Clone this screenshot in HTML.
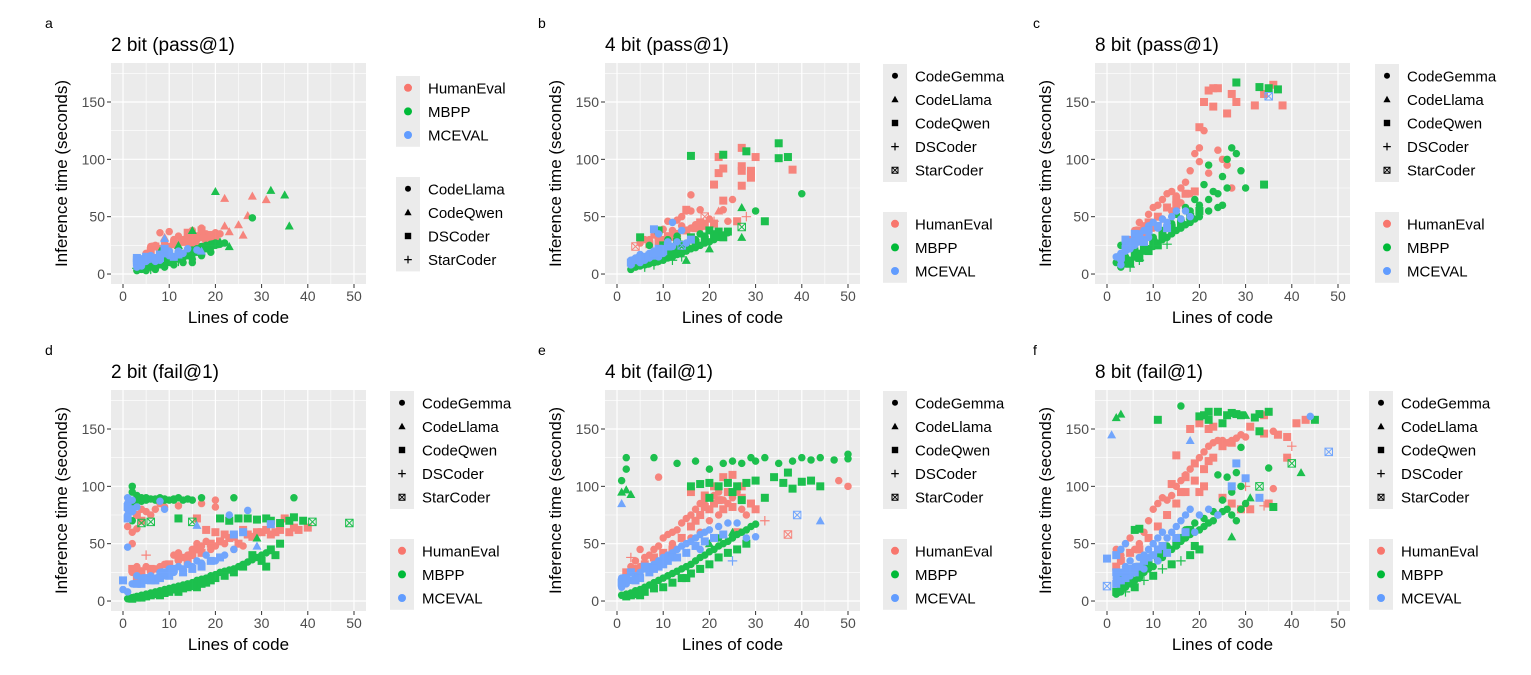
<!DOCTYPE html>
<html><head><meta charset="utf-8">
<style>
html,body{margin:0;padding:0;background:#fff;}
svg{display:block;font-family:"Liberation Sans",Arial,sans-serif;}
</style></head>
<body>
<svg id="fig" width="1531" height="675" viewBox="0 0 1531 675" xmlns="http://www.w3.org/2000/svg"></svg>
<script>
// ---- data (x = lines of code, y = inference seconds, optional shape index) ----
const xTicks = [0,10,20,30,40,50];
const yTicks = [0,50,100,150];
const datasets = ["HumanEval","MBPP","MCEVAL"];
const modelsA = ["CodeLlama","CodeQwen","DSCoder","StarCoder"];
const modelsB = ["CodeGemma","CodeLlama","CodeQwen","DSCoder","StarCoder"];

const a_HumanEval = [[5,18],[6,24],[7,25],[8,36],[10,37],[9,27],[11,30],[12,22],[14,33],[14,28],[15,38],[16,30],[17,40],[18,35],[19,30],[20,36],[22,66,1],[22,42,1],[23,37,1],[25,43,1],[26,34,1],[27,51,1],[28,68,1],[31,65,1],[12,33],[13,30],[16,25],[19,27],[21,35],[10,24],[15,32],[18,28],[17,34],[7,24,2],[14,30,2],[15,27,2],[17,32,2],[6,20,2],[8,22,2],[11,26,2],[13,28,2],[16,33,2],[18,31,2],[19,34,2],[20,30,2],[9,32,1],[12,29,3],[14,36,2],[17,38,2]];
const a_MBPP = [[3,3],[4,4],[5,5],[6,6],[7,6],[8,8],[9,9],[10,10],[11,12],[12,13],[13,14],[14,16],[15,17],[16,19],[17,20],[18,22],[19,23],[20,25],[21,26],[22,27],[23,24,1],[20,72,1],[32,73,1],[35,69,1],[36,42,1],[28,49,0],[15,10,0],[12,25,1],[15,38,1],[8,20,1],[4,7],[5,8],[6,9],[7,10],[8,11],[9,12],[10,14],[11,15],[12,17],[13,18],[14,19],[15,21],[16,22],[17,24],[18,25],[19,26],[20,27],[5,3],[7,4],[9,6],[11,8],[13,10],[15,13],[17,16],[19,19],[4,5,2],[6,7,2],[8,9,2],[10,11,2],[12,14,2],[14,17,2],[16,20,2],[18,23,2],[20,26,2],[21,28,1],[3,5,3],[6,4,3],[9,8,3],[12,11,3]];
const a_MCEVAL = [[3,10,2],[3,14,2],[4,13,2],[5,15,2],[3,6],[4,9],[6,13],[7,11],[8,12],[9,31,1],[9,18,2],[10,16],[11,15,2],[12,20],[13,18],[14,22],[16,21],[17,20,1],[5,11],[4,7],[6,16],[8,16],[10,20],[9,22,2],[8,14,2],[3,12,2],[4,11,2],[5,13,2],[6,14,2],[7,14,2],[8,17,2],[10,18,2],[12,17,2]];

const b_HumanEval = [[4,24,4],[5,27],[6,30],[7,30],[8,34],[9,33],[10,39],[11,46],[13,47],[14,50],[15,55],[16,69,0],[16,55],[18,56],[21,78,2],[22,88,2],[22,102,2],[23,92,2],[23,64,2],[25,65,0],[27,110,2],[27,90,2],[27,94,2],[27,77,2],[29,90,2],[29,84,2],[30,102,2],[38,91,2],[19,50,4],[21,46,3],[23,56],[24,46],[26,46,2],[28,50,3],[22,55,1],[17,43],[18,40],[19,44],[20,48],[12,38],[14,42],[16,40],[10,30],[12,32],[15,56,2],[18,45,2],[13,35,2],[15,38,2],[17,40,2],[19,42,2],[21,44,2],[11,33,2],[9,28,2],[7,26,2]];
const b_MBPP = [[3,4],[4,6],[5,7],[6,8],[7,9],[8,10],[9,11],[10,12],[11,14],[12,15],[13,17],[14,18],[15,20],[16,22],[17,23],[18,25],[19,27],[20,28],[21,30],[22,32],[23,34],[24,36],[5,32,2],[7,25],[9,38,2],[11,30],[13,33],[16,103,2],[23,104,2],[28,107,2],[35,114,2],[35,101,2],[37,102,2],[40,70,0],[30,55,0],[32,46,2],[27,58,1],[27,32,1],[27,41,4],[20,38,2],[22,37,2],[23,32,2],[24,37,2],[18,35],[20,22,1],[15,12,1],[12,20],[14,26],[17,30],[19,33],[21,35],[8,14],[10,18],[6,12],[4,10,2],[10,25,2],[13,28,2],[16,32,2],[5,9,2],[7,12,2],[9,16,2],[11,20,2],[13,22,2],[15,25,2],[17,27,2],[19,30,2],[21,33,2],[6,6,3],[8,8,3],[12,12,3],[14,15,3]];
const b_MCEVAL = [[3,8],[3,12],[4,14],[5,17],[6,12],[7,18],[8,39,2],[8,20],[9,35],[9,15],[10,22],[11,28],[12,45,0],[13,28],[14,38,0],[14,25,4],[15,27],[16,30,2],[5,10],[7,14],[10,18],[12,24],[6,15,2],[8,16,2],[9,22,2],[3,10,2],[4,12,2],[5,14,2],[7,16,2],[8,18,2],[9,19,2],[10,20,2],[11,24,2]];

const c_HumanEval = [[5,30],[6,38],[7,45],[8,42],[9,52],[10,58],[11,60],[12,65],[13,70],[14,72],[15,68],[16,75],[17,80],[18,90],[19,105],[20,110],[21,125],[21,150,2],[22,160,2],[23,146,2],[24,162,2],[26,140,2],[27,157,2],[28,150,2],[32,147,2],[34,157,2],[38,147,2],[24,108],[25,100],[26,95],[27,75],[20,98],[22,88],[18,70],[16,62],[14,55],[12,48],[10,40],[8,35],[36,165,2],[23,162,2],[20,128,2],[15,60,2],[17,70,2],[9,45,2],[11,50,2],[13,58,2],[15,65,2],[19,72,2],[7,38,2]];
const c_MBPP = [[3,6],[4,9],[5,12],[6,15],[7,18],[8,20],[9,22],[10,24],[11,27],[12,30],[13,32],[14,35],[15,38],[16,40],[17,43],[18,45],[19,48],[20,50],[22,55],[24,58],[25,60],[4,15],[6,22],[8,28],[10,32],[12,38],[14,44],[16,48],[18,55],[20,60],[22,65],[24,70],[26,75],[27,110],[26,100],[28,105],[29,90],[21,78],[25,85],[22,95],[28,167,2],[33,163,2],[35,162,2],[37,161,2],[34,78,2],[30,75],[23,72],[19,65],[17,58],[15,52],[3,25],[2,10],[5,10,2],[7,14,2],[9,20,2],[11,25,2],[4,12,2],[6,18,2],[8,24,2],[10,28,2],[12,34,2],[14,40,2],[16,44,2],[18,50,2],[20,55,2],[3,8,3],[5,6,3],[7,12,3],[13,26,3]];
const c_MCEVAL = [[3,12],[3,18],[4,20],[4,25],[5,28],[5,22],[6,30],[6,25],[7,35],[7,28],[8,38],[8,30],[9,42],[9,32],[10,45],[11,40],[12,48],[13,45],[14,50],[15,55],[16,48],[17,55],[18,50],[2,15],[3,8],[4,30,2],[6,35,2],[8,28,2],[35,155,4],[3,15,2],[4,22,2],[5,25,2],[6,28,2],[7,32,2],[9,38,2],[11,42,2],[13,40,2]];

const d_HumanEval = [[1,65],[2,60],[2,50],[3,63],[4,80],[5,78],[6,75],[7,80],[8,85],[9,82],[12,83],[17,85],[20,88],[20,82],[16,72,2],[18,62,2],[20,60,2],[22,58,2],[24,56,2],[26,62,2],[28,56,2],[30,60,2],[32,58,2],[34,62,2],[36,60,2],[38,62,2],[40,64,2],[35,72,2],[2,25],[3,28],[4,22],[5,30],[6,25],[7,28],[8,30],[9,32],[10,30],[11,40],[12,42],[13,38],[14,40],[15,45],[16,50],[17,48],[18,52],[19,45],[20,48],[22,50],[24,45],[26,48],[5,40,3],[3,30],[8,25],[12,35],[2,28,2],[3,20,2],[14,35,2],[16,45,2],[4,26,2],[6,28,2],[10,32,2],[12,38,2],[15,40,2],[17,42,2],[19,50,2],[21,52,2],[23,55,2],[25,50,2],[27,58,2],[29,60,2],[31,62,2],[33,60,2],[37,64,2],[3,75,2],[4,70,2]];
const d_MBPP = [[1,2],[2,3],[3,4],[4,5],[5,6],[6,7],[7,8],[8,9],[9,10],[10,11],[11,12],[12,13],[13,14],[14,15],[15,16],[16,18],[17,19],[18,20],[19,22],[20,23],[21,25],[22,26],[23,27],[24,28],[25,30],[26,32],[27,34],[28,36],[29,38],[30,40],[31,42],[32,44],[2,100,0],[2,95,0],[3,92,0],[4,90,0],[5,88,0],[6,89,0],[7,88,0],[8,90,0],[9,89,0],[10,88,0],[11,89,0],[12,90,0],[13,88,0],[14,89,0],[17,90,0],[24,90,0],[37,90,0],[2,86,0],[3,88,0],[4,87,0],[12,72,2],[21,72,2],[23,70,2],[25,72,2],[27,72,2],[29,71,2],[31,72,2],[32,70,2],[34,68,2],[36,70,2],[37,73,2],[39,70,2],[41,69,4],[49,68,4],[15,69,4],[6,69,4],[4,68,4],[2,70,0],[24,25,2],[26,30,2],[28,40,2],[30,35,2],[31,30,2],[33,40,2],[34,50,2],[29,55,1],[32,45,2],[4,3,2],[8,5,2],[12,8,2],[16,12,2],[2,2,2],[3,3,2],[5,4,2],[6,5,2],[7,6,2],[9,7,2],[10,8,2],[11,10,2],[13,11,2],[14,12,2],[15,13,2],[17,15,2],[18,16,2],[19,18,2],[20,20,2],[22,22,2],[3,90,0],[5,90,0],[7,89,0],[9,88,0],[11,88,0],[15,88,0]];
const d_MCEVAL = [[1,90],[1,85],[1,80],[1,75],[2,88],[2,78],[3,82],[8,87,0],[9,80,0],[23,75,0],[27,79,0],[0,10],[0,18,2],[1,8],[1,47,0],[2,15],[3,22],[4,20],[5,18],[6,22],[7,20],[8,25],[9,22],[10,28],[11,25],[12,30],[13,28],[14,32],[15,30],[16,35],[17,33],[18,40],[20,35],[22,40],[24,45],[26,60,2],[29,48,1],[32,67,2],[16,66,1],[24,58,2],[4,15,2],[7,18,2],[10,22,2],[1,82,2],[1,72,2],[2,80,2],[3,15,2],[5,20,2],[6,18,2],[8,20,2],[9,25,2],[11,28,2],[13,25,2],[15,28,2],[17,30,2],[19,35,2],[21,38,2]];

const e_HumanEval = [[3,30],[4,35],[5,30],[6,38],[7,40],[8,45],[9,48],[10,55],[11,58],[12,60],[13,62],[14,68],[15,72],[16,75],[17,80],[18,85],[19,88],[20,90],[21,92],[22,95],[23,88],[24,85],[25,90],[26,95],[27,80],[28,75],[20,70],[22,75],[18,60],[16,55],[9,108],[21,100,2],[23,108,2],[25,110,2],[27,100,2],[16,95,2],[19,92,2],[24,95,2],[48,105,0],[50,100,0],[30,80,2],[32,70,3],[26,60,2],[37,58,4],[3,38,3],[5,45],[12,50],[17,70,2],[20,80,2],[22,88,2],[2,25,2],[4,28,2],[6,32,2],[8,38,2],[10,42,2],[12,45,2],[14,55,2],[16,65,2],[18,75,2],[19,82,2],[21,85,2],[23,80,2],[25,82,2],[27,90,2],[29,85,2]];
const e_MBPP = [[1,5],[2,6],[3,7],[4,9],[5,10],[6,12],[7,14],[8,16],[9,18],[10,20],[11,22],[12,24],[13,26],[14,28],[15,30],[16,32],[17,35],[18,38],[19,40],[20,43],[21,45],[22,48],[23,50],[24,52],[25,55],[26,58],[27,60],[28,62],[29,65],[30,67],[2,125,0],[2,115],[1,105],[1,95,1],[2,97,1],[3,93,1],[8,125],[13,120],[17,122],[20,115],[23,120],[25,122],[27,120],[29,125],[30,122],[32,125],[35,120],[38,122],[40,125],[42,123],[44,125],[47,123],[50,128],[50,124],[16,100,2],[18,102,2],[20,103,2],[22,100,2],[24,103,2],[26,100,2],[28,103,2],[20,90,2],[25,95,2],[27,88,2],[30,105,2],[32,90,2],[34,108,2],[36,103,2],[38,98,2],[40,104,2],[42,105,2],[44,100,2],[37,112,2],[5,5,2],[10,12,2],[15,20,2],[2,4,2],[3,5,2],[4,6,2],[6,8,2],[8,11,2],[12,16,2],[14,20,2],[16,24,2],[18,28,2],[20,32,2],[22,38,2],[24,42,2],[26,45,2],[28,50,2],[20,50,1],[25,60,1],[22,55,0]];
const e_MCEVAL = [[1,20],[1,12],[2,15],[3,18],[4,22],[5,25],[6,28],[7,30],[8,32],[9,35],[10,38],[11,40],[12,42],[13,45],[14,48],[15,50],[16,52],[17,55],[18,58],[19,60],[20,62],[22,65],[24,68],[26,68],[28,55],[30,56],[1,85,1],[39,75,4],[44,70,1],[25,35,3],[18,45],[3,25,2],[6,30,2],[9,30,2],[12,38,2],[1,16,2],[2,20,2],[4,18,2],[5,20,2],[7,25,2],[8,28,2],[10,32,2],[11,35,2],[13,38,2],[15,42,2],[17,48,2],[19,52,2],[21,55,2],[23,58,2]];

const f_HumanEval = [[2,45],[3,40],[4,50],[5,55],[6,45],[7,50],[8,60],[9,70],[10,80],[11,85],[12,90],[13,88],[14,92],[15,100],[16,105],[17,110],[18,115],[19,120],[20,125],[21,130],[22,135],[23,138],[24,140],[25,140],[26,138],[27,140],[28,142],[29,145],[30,143],[20,155,2],[18,150,2],[22,150,2],[23,152,2],[31,152,2],[34,146,2],[36,148,0],[37,145,2],[39,143,2],[41,155,2],[43,158,2],[34,162,2],[40,135,3],[39,125,2],[36,98,0],[35,85,2],[34,83,3],[30,100,3],[15,127,2],[19,120,2],[22,122,2],[17,108,2],[20,95,2],[25,90,2],[27,85,2],[29,80,2],[31,80,2],[14,102,2],[16,95,2],[21,100,2],[2,30,2],[3,35,2],[5,42,2],[7,45,2],[9,55,2],[11,65,2],[13,75,2],[15,85,2],[17,95,2],[19,105,2],[21,115,2],[23,125,2],[25,135,2],[27,138,2]];
const f_MBPP = [[2,6],[3,8],[4,12],[5,15],[6,18],[7,20],[8,25],[9,28],[10,30],[11,35],[12,38],[13,42],[14,45],[15,48],[16,52],[17,55],[18,58],[19,60],[20,62],[21,65],[22,68],[23,70],[24,75],[25,78],[26,80],[27,75],[28,70],[29,80],[30,85],[3,20],[5,25],[7,30],[9,35],[11,40],[13,48],[15,55],[17,62],[19,68],[21,72],[23,78],[25,88],[27,95],[29,100],[24,110],[26,108],[28,112],[35,116],[31,90,1],[27,56,1],[2,160,1],[3,163,1],[16,170],[11,158,2],[20,161,2],[21,162,2],[22,165,2],[22,158,2],[24,165,2],[25,155,2],[26,162,2],[27,164,2],[28,163,2],[29,162,2],[30,162,1],[32,160,2],[33,163,2],[35,165,2],[33,148,2],[36,82,2],[42,112,1],[45,158,2],[40,120,4],[33,100,4],[6,62,2],[7,63,2],[29,134,0],[6,12,2],[10,22,2],[14,32,2],[18,40,2],[2,8,2],[3,12,2],[4,16,2],[5,20,2],[7,24,2],[8,30,2],[9,32,2],[11,38,2],[12,42,2],[13,45,2],[15,50,2],[16,55,2],[17,58,2],[18,62,2],[19,48,2],[20,45,2],[4,8,3],[8,18,3],[12,28,3],[16,35,3]];
const f_MCEVAL = [[0,13,4],[1,145,1],[0,37,2],[2,40,2],[3,45],[4,50,0],[2,20],[3,25],[4,30],[5,35],[6,30],[7,38],[8,40],[9,45],[10,50],[11,55],[12,60],[13,55],[14,60],[15,65],[16,70],[17,75],[18,80],[19,60],[20,75],[22,80],[24,75],[27,100,2],[30,107,2],[28,120,2],[33,90,2],[44,161,0],[48,130,4],[18,140,1],[5,22],[8,28],[11,35],[4,25,2],[7,30,2],[10,40,2],[2,15,2],[2,25,2],[3,18,2],[4,20,2],[5,28,2],[6,25,2],[8,35,2],[9,38,2],[11,45,2],[12,48,2],[13,42,2],[15,55,2],[17,60,2]];

const colors = {HumanEval:"#F8766D",MBPP:"#00BA38",MCEVAL:"#619CFF"};
const NS = "http://www.w3.org/2000/svg";
const svg = document.getElementById("fig");
function mk(tag, attrs, parent){const e=document.createElementNS(NS,tag);for(const k in attrs)e.setAttribute(k,attrs[k]);(parent||svg).appendChild(e);return e;}

const panels = [
 {id:"a",letter:"a",title:"2 bit (pass@1)",px:111,py:63,lx:45,lgx:396,colFirst:true,models:modelsA,data:[a_HumanEval,a_MBPP,a_MCEVAL]},
 {id:"b",letter:"b",title:"4 bit (pass@1)",px:605,py:63,lx:538,lgx:883,colFirst:false,models:modelsB,data:[b_HumanEval,b_MBPP,b_MCEVAL]},
 {id:"c",letter:"c",title:"8 bit (pass@1)",px:1095,py:63,lx:1033,lgx:1375,colFirst:false,models:modelsB,data:[c_HumanEval,c_MBPP,c_MCEVAL]},
 {id:"d",letter:"d",title:"2 bit (fail@1)",px:111,py:390,lx:45,lgx:390,colFirst:false,models:modelsB,data:[d_HumanEval,d_MBPP,d_MCEVAL]},
 {id:"e",letter:"e",title:"4 bit (fail@1)",px:605,py:390,lx:538,lgx:883,colFirst:false,models:modelsB,data:[e_HumanEval,e_MBPP,e_MCEVAL]},
 {id:"f",letter:"f",title:"8 bit (fail@1)",px:1095,py:390,lx:1033,lgx:1369,colFirst:false,models:modelsB,data:[f_HumanEval,f_MBPP,f_MCEVAL]}
];
const PW=255, PH=221, XMIN=-2.6, XMAX=52.6, YMIN=-8.7, YMAX=184;

function drawShape(g, shape, cx, cy, color, scale){
  const s = scale||1; let e;
  if(shape===0){ e=mk("circle",{cx:cx,cy:cy,r:3*s,fill:color},g); }
  else if(shape===1){ const h=3.6*s; e=mk("polygon",{points:`${cx},${cy-h} ${cx+h},${cy+h*0.8} ${cx-h},${cy+h*0.8}`,fill:color},g); }
  else if(shape===2){ const h=3.2*s; e=mk("rect",{x:cx-h,y:cy-h,width:2*h,height:2*h,fill:color},g); }
  else if(shape===3){ const h=3.8*s; e=mk("path",{d:`M${cx-h},${cy}H${cx+h}M${cx},${cy-h}V${cy+h}`,stroke:color,"stroke-width":1.2,fill:"none"},g); }
  else { const h=3*s; e=mk("path",{d:`M${cx-h},${cy-h}h${2*h}v${2*h}h${-2*h}zM${cx-h},${cy-h}L${cx+h},${cy+h}M${cx+h},${cy-h}L${cx-h},${cy+h}`,stroke:color,"stroke-width":1,fill:"none"},g); }
  return e;
}

panels.forEach(p=>{
  const g = mk("g",{});
  
  
  const xs = v => p.px + (v - XMIN) * PW / (XMAX - XMIN);
  const ys = v => p.py + PH - (v - YMIN) * PH / (YMAX - YMIN);
  const letter = mk("text",{x:p.lx,y:p.py-35,"font-size":14,fill:"#000"},g); letter.textContent=p.letter;
  
  
  const t = mk("text",{x:p.px,y:p.py-12,"font-size":19,fill:"#000"},g); t.textContent=p.title;
  
  
  const bg = mk("rect",{x:p.px,y:p.py,width:PW,height:PH,fill:"#EBEBEB"},g);
  
  
  for(let v=5; v<=45; v+=10) mk("line",{x1:xs(v),x2:xs(v),y1:p.py,y2:p.py+PH,stroke:"#fff","stroke-width":0.6},g);
  for(let v=25; v<=175; v+=50) mk("line",{x1:p.px,x2:p.px+PW,y1:ys(v),y2:ys(v),stroke:"#fff","stroke-width":0.6},g);
  xTicks.forEach(v=>{
    mk("line",{x1:xs(v),x2:xs(v),y1:p.py,y2:p.py+PH,stroke:"#fff","stroke-width":1.2},g);
    mk("line",{x1:xs(v),x2:xs(v),y1:p.py+PH,y2:p.py+PH+4,stroke:"#333","stroke-width":1},g);
    const tl = mk("text",{x:xs(v),y:p.py+PH+17,"font-size":14,fill:"#4D4D4D","text-anchor":"middle"},g); tl.textContent=v;
    
    
  });
  yTicks.forEach(v=>{
    mk("line",{x1:p.px,x2:p.px+PW,y1:ys(v),y2:ys(v),stroke:"#fff","stroke-width":1.2},g);
    mk("line",{x1:p.px-4,x2:p.px,y1:ys(v),y2:ys(v),stroke:"#333","stroke-width":1},g);
    const tl = mk("text",{x:p.px-6,y:ys(v)+5,"font-size":14,fill:"#4D4D4D","text-anchor":"end"},g); tl.textContent=v;
    
    
  });
  const xt = mk("text",{x:p.px+PW/2,y:p.py+PH+39,"font-size":17,fill:"#000","text-anchor":"middle"},g); xt.textContent="Lines of code";
  
  
  const ytx = p.px-44, yty = p.py+PH/2;
  const yt = mk("text",{x:ytx,y:yty,"font-size":17,fill:"#000","text-anchor":"middle",transform:`rotate(-90 ${ytx} ${yty})`},g); yt.textContent="Inference time (seconds)";
  
  
  const clip = mk("clipPath",{id:"clip-"+p.id},g); mk("rect",{x:p.px,y:p.py,width:PW,height:PH},clip);
  const pg = mk("g",{"clip-path":`url(#clip-${p.id})`,opacity:0.88},g);
  datasets.forEach((ds,i)=>{
    p.data[i].forEach(pt=>{
      const e = drawShape(pg, pt.length>2?pt[2]:0, xs(pt[0]), ys(pt[1]), colors[ds], 1.25);
      
      
    });
  });
  const shapeY0 = p.colFirst ? p.py+114 : p.py+1;
  const colY0 = p.colFirst ? p.py+13 : p.py+149;
  const sg = mk("g",{},g);
  
  
  mk("rect",{x:p.lgx,y:shapeY0,width:24,height:p.models.length*23.6,fill:"#EBEBEB"},sg);
  p.models.forEach((m,k)=>{
    const cy = shapeY0+11.8+k*23.6;
    drawShape(sg, k, p.lgx+12, cy, "#000", 1);
    const lt = mk("text",{x:p.lgx+32,y:cy+5.5,"font-size":15,fill:"#000"},sg); lt.textContent=m;
    
    
  });
  const cg = mk("g",{},g);
  
  
  mk("rect",{x:p.lgx,y:colY0,width:24,height:3*23.6,fill:"#EBEBEB"},cg);
  datasets.forEach((ds,k)=>{
    const cy = colY0+11.8+k*23.6;
    mk("circle",{cx:p.lgx+12,cy:cy,r:4,fill:colors[ds]},cg);
    const lt = mk("text",{x:p.lgx+32,y:cy+5.5,"font-size":15,fill:"#000"},cg); lt.textContent=ds;
    
    
  });
});
</script>
</body></html>
